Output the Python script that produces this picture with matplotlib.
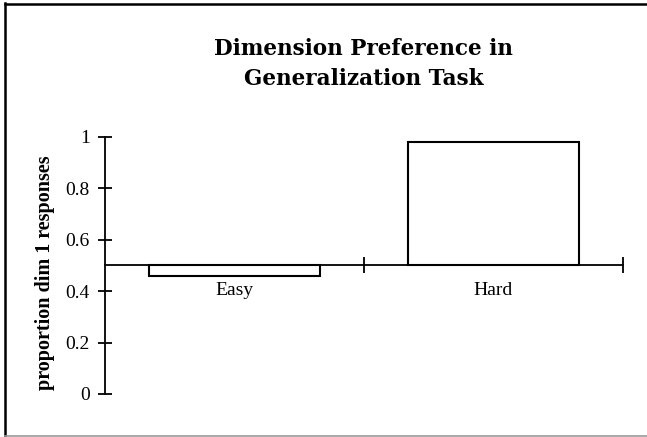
import matplotlib
matplotlib.use("Agg")
import matplotlib.pyplot as plt
from matplotlib.lines import Line2D

categories = ["Easy", "Hard"]
values = [0.46, 0.98]
baseline = 0.5
yticks = [0, 0.2, 0.4, 0.6, 0.8, 1]
ytick_labels = ["0", "0.2", "0.4", "0.6", "0.8", "1"]
title_lines = ["Dimension Preference in", "Generalization Task"]
ylabel = "proportion dim 1 responses"

W, H = 647, 437
fig = plt.figure(figsize=(W / 100, H / 100), dpi=100)
fig.patch.set_facecolor("white")

ax = fig.add_axes([105 / W, 43 / H, 518 / W, 257.3 / H])
x = list(range(len(categories)))
heights = [v - baseline for v in values]
ax.bar(x, heights, bottom=baseline, width=0.664, facecolor="white",
       edgecolor="black", linewidth=1.5, zorder=3)

ax.set_xlim(-0.5, len(categories) - 0.5)
ax.set_ylim(0, 1)
for s in ["top", "right"]:
    ax.spines[s].set_visible(False)
ax.spines["left"].set_linewidth(1.3)
ax.spines["bottom"].set_linewidth(1.3)
ax.spines["bottom"].set_position(("data", baseline))

serif = ["Liberation Serif", "DejaVu Serif"]
ax.set_yticks(yticks)
ax.set_yticklabels(ytick_labels, fontfamily=serif, fontsize=14)
ax.tick_params(axis="y", direction="inout", length=10, width=1.3, pad=6)

ax.set_xticks([i + 0.5 for i in x])
ax.set_xticklabels([])
ax.tick_params(axis="x", which="major", direction="inout", length=12, width=1.3)
ax.set_xticks(x, minor=True)
ax.set_xticklabels(categories, minor=True, fontfamily=serif, fontsize=14)
ax.tick_params(axis="x", which="minor", length=0, pad=12)

fig.text(363 / W, 1 - 49 / H, title_lines[0], ha="center", va="center",
         fontfamily=["DejaVu Serif"], fontweight="bold", fontsize=15.5)
fig.text(364 / W, 1 - 79 / H, title_lines[1], ha="center", va="center",
         fontfamily=["DejaVu Serif"], fontweight="bold", fontsize=15.5)
fig.text(45 / W, 1 - 273 / H, ylabel, rotation=90, ha="center", va="center",
         fontfamily=serif, fontweight="bold", fontsize=14.5)

# figure border
fig.add_artist(Line2D([5 / W, 5 / W], [0, 1 - 3 / H], transform=fig.transFigure,
                      color="black", linewidth=1.8))
fig.add_artist(Line2D([5 / W, 1], [1 - 3.5 / H, 1 - 3.5 / H], transform=fig.transFigure,
                      color="black", linewidth=1.8))
fig.add_artist(Line2D([5 / W, 1], [1.2 / H, 1.2 / H], transform=fig.transFigure,
                      color="#999999", linewidth=1.2))

fig.savefig("out.png", dpi=100)
